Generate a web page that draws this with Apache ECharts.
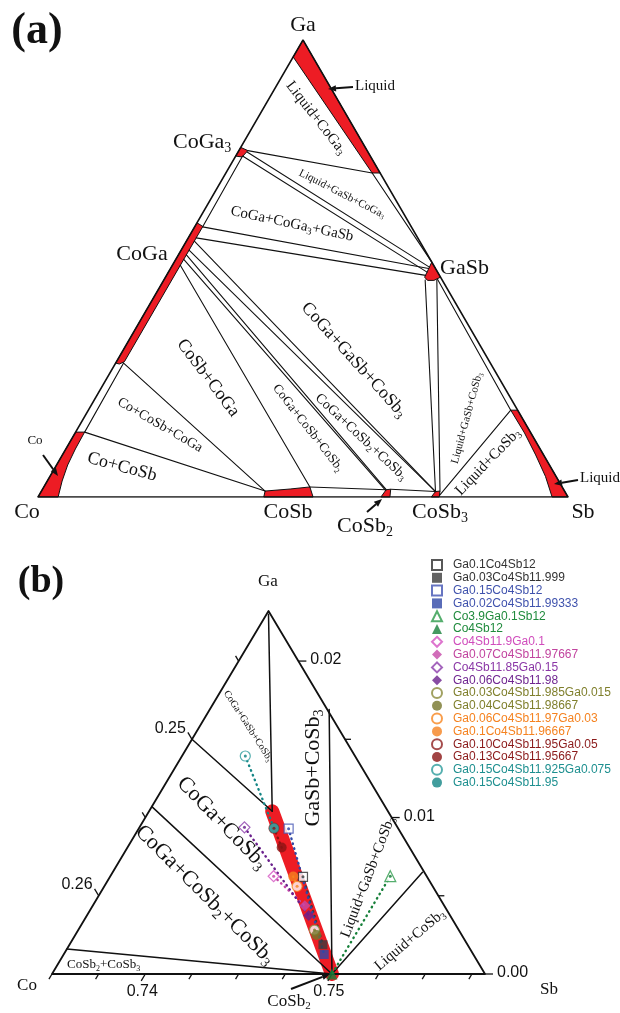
<!DOCTYPE html>
<html>
<head>
<meta charset="utf-8">
<script src="https://cdn.jsdelivr.net/npm/echarts@6/dist/echarts.min.js"></script>
<style>
  html, body { margin: 0; padding: 0; background: #fff; }
  #chart { width: 620px; height: 1013px; }
</style>
</head>
<body>
<div id="chart"></div>
<script>
// ===== Panel (a): Co–Ga–Sb isothermal section; every point is [x(Sb), x(Ga)] =====
const outlineA = [[0, 0], [1, 0], [0, 1], [0, 0]];

// single-phase regions (filled)
const liquidGaSide = [[0, 1], [0, 0.963], [0.276, 0.709], [0.291, 0.709]];
const phaseCoGa3 = [[0, 0.765], [0.017, 0.758], [0.013, 0.744], [0, 0.746]];
const phaseCoGa = [[0, 0.600], [0.015, 0.592], [0.015, 0.296], [0.008, 0.291], [0, 0.293]];
const phaseGaSb = [[0.486, 0.514], [0.519, 0.481], [0.510, 0.474], [0.498, 0.474], [0.489, 0.481]];
const liquidSbSide = [[0.810, 0.190], [1, 0], [0.970, 0], [0.935, 0.045], [0.893, 0.092], [0.848, 0.140], [0.797, 0.190]];
const phaseCo = [[0, 0], [0.038, 0], [0.028, 0.035], [0.021, 0.070], [0.018, 0.105], [0.017, 0.142], [0, 0.142]];
const phaseCoSb = [[0.426, 0], [0.422, 0.013], [0.467, 0.0175], [0.502, 0.022], [0.519, 0]];
const phaseCoSb2 = [[0.647, 0], [0.649, 0.016], [0.657, 0.017], [0.664, 0]];
const phaseCoSb3 = [[0.742, 0], [0.744, 0.012], [0.752, 0.013], [0.757, 0]];

// phase boundaries and tie-lines
const boundariesA = [
  [[0.013, 0.744], [0.015, 0.592]],   // CoGa3 / CoGa two-phase band
  [[0.015, 0.293], [0.017, 0.142]],   // Co / CoGa two-phase band
  [[0.017, 0.758], [0.276, 0.709]],   // CoGa3 – liquid
  [[0.017, 0.755], [0.487, 0.503]],   // CoGa3 – GaSb
  [[0.013, 0.746], [0.488, 0.492]],
  [[0.276, 0.709], [0.486, 0.514]],   // liquid – GaSb band
  [[0.015, 0.591], [0.487, 0.500]],   // CoGa – GaSb
  [[0.015, 0.567], [0.489, 0.485]],
  [[0.015, 0.560], [0.744, 0.012]],   // CoGa – CoSb3
  [[0.015, 0.540], [0.745, 0.011]],
  [[0.015, 0.530], [0.649, 0.016]],   // CoGa – CoSb2
  [[0.015, 0.520], [0.648, 0.015]],
  [[0.015, 0.507], [0.502, 0.022]],   // CoGa – CoSb
  [[0.015, 0.293], [0.422, 0.013]],   // CoGa – CoSb
  [[0.017, 0.142], [0.422, 0.013]],   // Co – CoSb
  [[0.502, 0.022], [0.649, 0.016]],   // CoSb – CoSb2
  [[0.657, 0.017], [0.744, 0.012]],   // CoSb2 – CoSb3
  [[0.493, 0.475], [0.744, 0.012]],   // GaSb – CoSb3
  [[0.515, 0.475], [0.752, 0.013]],
  [[0.515, 0.477], [0.797, 0.190]],   // GaSb – liquid band
  [[0.797, 0.190], [0.756, 0.004]]    // liquid – CoSb3
];

// ===== Panel (b): enlarged corner around CoSb3 =====
const cornerSb = 0.735;     // Sb fraction along the left edge
const sideLen = 0.0232;     // edge length of the enlarged triangle
const outlineB = [[cornerSb, 0], [cornerSb + sideLen, 0], [cornerSb, sideLen], [cornerSb, 0]];
const skutteruditeRange = [[0.7416, 0.0104], [0.75, 0]];
const boundariesB = [
  [[0.7351, 0.0230], [0.7416, 0.0104]],
  [[0.7350, 0.0150], [0.7416, 0.0104]],
  [[0.7350, 0.0107], [0.75, 0]],
  [[0.7350, 0.0016], [0.75, 0]],
  [[0.7414, 0.0169], [0.75, 0]],
  [[0.7516, 0.0065], [0.75, 0]]
];
const sbTicks = [0.735, 0.7375, 0.74, 0.7425, 0.745, 0.7475, 0.75, 0.7525, 0.755, 0.7575];
const sbTickLabels = ['', '', '0.74', '', '', '', '0.75', '', '', ''];
const coTicks = [0.245, 0.25, 0.255, 0.26];
const coTickLabels = ['', '0.25', '', '0.26'];
const gaTicks = [0, 0.005, 0.01, 0.015, 0.02];
const gaTickLabels = ['0.00', '', '0.01', '', '0.02'];

// samples: atoms per formula unit
const sampleNames = [
  'Ga0.1Co4Sb12', 'Ga0.03Co4Sb11.999', 'Ga0.15Co4Sb12', 'Ga0.02Co4Sb11.99333',
  'Co3.9Ga0.1Sb12', 'Co4Sb12', 'Co4Sb11.9Ga0.1', 'Ga0.07Co4Sb11.97667',
  'Co4Sb11.85Ga0.15', 'Ga0.06Co4Sb11.98', 'Ga0.03Co4Sb11.985Ga0.015', 'Ga0.04Co4Sb11.98667',
  'Ga0.06Co4Sb11.97Ga0.03', 'Ga0.1Co4Sb11.96667', 'Ga0.10Co4Sb11.95Ga0.05', 'Ga0.13Co4Sb11.95667',
  'Ga0.15Co4Sb11.925Ga0.075', 'Ga0.15Co4Sb11.95'
];
const sampleGa = [0.1, 0.03, 0.15, 0.02, 0.1, 0, 0.1, 0.07, 0.15, 0.06, 0.045, 0.04, 0.09, 0.1, 0.15, 0.13, 0.225, 0.15];
const sampleCo = [4, 4, 4, 4, 3.9, 4, 4, 4, 4, 4, 4, 4, 4, 4, 4, 4, 4, 4];
const sampleSb = [12, 11.999, 12, 11.99333, 12, 12, 11.9, 11.97667, 11.85, 11.98, 11.985, 11.98667, 11.97, 11.96667, 11.95, 11.95667, 11.925, 11.95];
const sampleSymbols = ['rect', 'rect', 'rect', 'rect', 'triangle', 'triangle', 'diamond', 'diamond', 'diamond', 'diamond',
  'circle', 'circle', 'circle', 'circle', 'circle', 'circle', 'circle', 'circle'];
const sampleFilled = [false, true, false, true, false, true, false, true, false, true, false, true, false, true, false, true, false, true];
const sampleColors = ['#2e2e2e', '#3c3c3c', '#4152b3', '#3047a6', '#2a9a48', '#17803a', '#d452c2', '#c548a8',
  '#8c3cab', '#6a1f8c', '#8a8a3a', '#76762a', '#f7861f', '#f5821f', '#8e1f1f', '#8a1414', '#2a9b9b', '#138585'];
const sampleTextColors = ['#333333', '#333333', '#3f52ad', '#3f52ad', '#1f8a3c', '#1f8a3c', '#d04cbc', '#c2449f',
  '#8a36a6', '#6f2590', '#7f7f2c', '#7f7f2c', '#f5821f', '#f5821f', '#8b1a1a', '#8b1a1a', '#1d8f8f', '#1d8f8f'];
const samplePairs = [[0, 1], [2, 3], [4, 5], [6, 7], [8, 9], [10, 11], [12, 13], [14, 15], [16, 17]];

// ===== helpers =====
const SERIF = "'Liberation Serif', 'Times New Roman', serif";
const SANS = "'Liberation Sans', Arial, sans-serif";
const RED = '#ed1c24';
const INK = '#111';

// ternary [Sb, Ga] -> cartesian [Sb + Ga/2, Ga]
const toXY = p => [p[0] + p[1] / 2, p[1]];

function lineSeries(pts, grid, width, z) {
  return {
    type: 'line', xAxisIndex: grid, yAxisIndex: grid, data: pts.map(toXY),
    showSymbol: false, silent: true, z: z || 3, animation: false,
    lineStyle: { color: INK, width: width || 1.1, cap: 'round', join: 'round' }
  };
}

function polygonSeries(pts, grid, fill, z) {
  const data = pts.map(toXY);
  return {
    type: 'custom', xAxisIndex: grid, yAxisIndex: grid, data, silent: true, z: z || 2, animation: false,
    renderItem(params, api) {
      if (params.dataIndex !== 0) return null;
      return {
        type: 'polygon',
        shape: { points: data.map(d => api.coord(d)) },
        style: { fill, stroke: INK, lineWidth: 1 }
      };
    }
  };
}

const sampleFraction = i => {
  const t = sampleGa[i] + sampleCo[i] + sampleSb[i];
  return [sampleSb[i] / t, sampleGa[i] / t];
};

// tick marks of panel (b): edge point and the outward direction along the grid line
const tickList = [];
sbTicks.forEach((v, i) => tickList.push({ p: [v, 0], d: [0, -1], label: sbTickLabels[i], side: 'bottom' }));
coTicks.forEach((v, i) => tickList.push({ p: [cornerSb, 1 - cornerSb - v], d: [-1, 1], label: coTickLabels[i], side: 'left' }));
gaTicks.forEach((v, i) => tickList.push({ p: [1 - (1 - cornerSb - sideLen) - v, v], d: [1, 0], label: gaTickLabels[i], side: 'right' }));

const tickSeries = {
  type: 'custom', xAxisIndex: 1, yAxisIndex: 1, silent: true, z: 4, animation: false,
  data: tickList.map(t => toXY(t.p)),
  renderItem(params, api) {
    const t = tickList[params.dataIndex];
    const a = api.coord(toXY(t.p));
    const b = api.coord(toXY([t.p[0] + t.d[0] * 0.001, t.p[1] + t.d[1] * 0.001]));
    const dx = b[0] - a[0], dy = b[1] - a[1], n = Math.hypot(dx, dy);
    const len = t.label ? 8 : 6;
    const e = [a[0] + dx / n * len, a[1] + dy / n * len];
    const children = [{ type: 'line', shape: { x1: a[0], y1: a[1], x2: e[0], y2: e[1] }, style: { stroke: INK, lineWidth: 1.3 } }];
    if (t.label) {
      let st;
      if (t.side === 'bottom') st = { x: e[0] + 1, y: e[1] + 3, align: 'center', verticalAlign: 'top' };
      else if (t.side === 'left') st = { x: e[0] - 2, y: e[1] - 4, align: 'right', verticalAlign: 'middle' };
      else st = { x: e[0] + 4, y: e[1] - 1, align: 'left', verticalAlign: 'middle' };
      children.push({ type: 'text', style: Object.assign({ text: t.label, fill: INK, fontSize: 16, fontFamily: SANS }, st) });
    }
    return { type: 'group', children };
  }
};

// text annotations with chemical subscripts written as _n
function label(t, x, y, size, rot, opts) {
  opts = opts || {};
  const subSize = Math.round(size * 0.64);
  return {
    type: 'text', x, y, rotation: -(rot || 0) * Math.PI / 180, silent: true, z: 60,
    style: {
      text: t.replace(/_(\d)/g, '{s|$1}'),
      fontSize: size, fontFamily: opts.family || SERIF, fontWeight: opts.weight || 'normal',
      fill: INK, align: opts.align || 'center', verticalAlign: 'middle',
      lineHeight: Math.round(size * 1.2),
      rich: { s: { fontSize: subSize, fontFamily: opts.family || SERIF, fill: INK, verticalAlign: 'bottom', lineHeight: Math.round(size * 0.5) } }
    }
  };
}

function arrow(x1, y1, x2, y2) {
  const ang = Math.atan2(y2 - y1, x2 - x1), L = 8, H = 3.2;
  const bx = x2 - Math.cos(ang) * L, by = y2 - Math.sin(ang) * L;
  return [
    { type: 'line', silent: true, z: 60, shape: { x1, y1, x2: bx, y2: by }, style: { stroke: INK, lineWidth: 2 } },
    { type: 'polygon', silent: true, z: 60, shape: { points: [[x2, y2],
      [bx + Math.sin(ang) * H, by - Math.cos(ang) * H], [bx - Math.sin(ang) * H, by + Math.cos(ang) * H]] },
      style: { fill: INK } }
  ];
}

// ===== series =====
const series = [];
[liquidGaSide, phaseCoGa3, phaseCoGa, phaseGaSb, liquidSbSide, phaseCo, phaseCoSb, phaseCoSb2, phaseCoSb3]
  .forEach(p => series.push(polygonSeries(p, 0, RED, 2)));
boundariesA.forEach(l => series.push(lineSeries(l, 0, 1.1, 3)));
series.push(lineSeries(outlineA, 0, 1.5, 4));

series.push({
  type: 'line', xAxisIndex: 1, yAxisIndex: 1, data: skutteruditeRange.map(toXY), showSymbol: false,
  silent: true, z: 2, animation: false, lineStyle: { color: RED, width: 14, cap: 'round' }
});
boundariesB.forEach(l => series.push(lineSeries(l, 1, 1.5, 3)));
series.push(lineSeries(outlineB, 1, 1.8, 4));
series.push(tickSeries);

samplePairs.forEach(([a, b]) => {
  series.push({
    type: 'line', xAxisIndex: 1, yAxisIndex: 1, silent: true, z: 5, animation: false, showSymbol: false,
    data: [toXY(sampleFraction(a)), toXY(sampleFraction(b))],
    lineStyle: { color: sampleColors[b], width: 2.4, type: [0.5, 4.6], cap: 'round' }
  });
});

sampleNames.forEach((name, i) => {
  const sym = sampleSymbols[i];
  const size = sym === 'rect' ? 9 : sym === 'circle' ? 10 : 11;
  series.push({
    type: 'scatter', name, xAxisIndex: 1, yAxisIndex: 1, z: sampleFilled[i] ? 7 : 6, animation: false,
    symbol: sym, symbolSize: size, data: [toXY(sampleFraction(i))],
    itemStyle: sampleFilled[i]
      ? { color: sampleColors[i] }
      : { color: '#fff', borderColor: sampleColors[i], borderWidth: 1.2 }
  });
});
// centre dots of the nominal (open) compositions
series.push({
  type: 'scatter', xAxisIndex: 1, yAxisIndex: 1, z: 8, animation: false, silent: true, symbolSize: 3,
  data: sampleNames.map((n, i) => i).filter(i => !sampleFilled[i])
    .map(i => ({ value: toXY(sampleFraction(i)), itemStyle: { color: sampleColors[i + 1] } }))
});

// ===== annotations =====
const graphics = [
  label('(a)', 37, 32, 44, 0, { weight: 'bold' }),
  label('Ga', 303, 25, 22),
  label('Liquid', 355, 86, 15, 0, { align: 'left' }),
  label('Liquid+CoGa_3', 316, 118, 15, 52),
  label('CoGa_3', 173, 142, 22, 0, { align: 'left' }),
  label('Liquid+GaSb+CoGa_3', 342, 194, 11, 27),
  label('CoGa+CoGa_3+GaSb', 292, 224, 15, 12),
  label('CoGa', 142, 254, 22),
  label('GaSb', 440, 268, 22, 0, { align: 'left' }),
  label('CoGa+GaSb+CoSb_3', 354, 360, 18, 48),
  label('CoSb+CoGa', 208, 378, 18, 53),
  label('Co+CoSb+CoGa', 160, 425, 14, 30),
  label('Co+CoSb', 122, 467, 18, 15),
  label('CoGa+CoSb+CoSb_2', 308, 428, 13, 52),
  label('CoGa+CoSb_2+CoSb_3', 361, 437, 14, 43),
  label('Liquid+GaSb+CoSb_3', 467, 418, 11, -75),
  label('Liquid+CoSb_3', 488, 462, 15, -46),
  label('Liquid', 580, 478, 15, 0, { align: 'left' }),
  label('Co', 35, 441, 13),
  label('Co', 27, 512, 22),
  label('CoSb', 288, 512, 22),
  label('CoSb_2', 365, 526, 22),
  label('CoSb_3', 440, 512, 22),
  label('Sb', 583, 512, 22),

  label('(b)', 41, 582, 38, 0, { weight: 'bold' }),
  label('Ga', 268, 582, 17),
  label('Co', 27, 986, 17),
  label('Sb', 549, 990, 17),
  label('CoSb_2', 289, 1002, 17),
  label('CoGa+GaSb+CoSb_3', 248, 726, 10, 57),
  label('GaSb+CoSb_3', 313, 768, 22, -90),
  label('CoGa+CoSb_3', 222, 823, 22, 46),
  label('CoGa+CoSb_2+CoSb_3', 205, 895, 22, 45),
  label('Liquid+GaSb+CoSb_3', 368, 877, 15, -69),
  label('Liquid+CoSb_3', 410, 940, 15, -40),
  label('CoSb_2+CoSb_3', 67, 965, 13, 0, { align: 'left' })
].concat(
  arrow(353, 87, 328, 89),
  arrow(578, 480, 554, 484),
  arrow(43, 455, 58, 476),
  arrow(367, 512, 382, 499),
  arrow(291, 989, 330, 974)
);

const chart = echarts.init(document.getElementById('chart'), null, { renderer: 'canvas' });
chart.setOption({
  animation: false,
  backgroundColor: '#fff',
  grid: [
    { left: 38, top: 40, width: 530, height: 457 },
    { left: 52, top: 611, width: 433, height: 363 }
  ],
  xAxis: [
    { type: 'value', gridIndex: 0, min: 0, max: 1, show: false },
    { type: 'value', gridIndex: 1, min: cornerSb, max: cornerSb + sideLen, show: false }
  ],
  yAxis: [
    { type: 'value', gridIndex: 0, min: 0, max: 1, show: false },
    { type: 'value', gridIndex: 1, min: 0, max: sideLen, show: false }
  ],
  legend: {
    orient: 'vertical', left: 431, top: 559, padding: 0, itemWidth: 10, itemHeight: 10, itemGap: 0.8,
    selectedMode: false,
    data: sampleNames.map((n, i) => ({ name: n, textStyle: { color: sampleTextColors[i] } })),
    textStyle: { fontFamily: SANS, fontSize: 12, lineHeight: 12, padding: [0, 0, 0, 6] }
  },
  series,
  graphic: { elements: graphics }
});
</script>
</body>
</html>
